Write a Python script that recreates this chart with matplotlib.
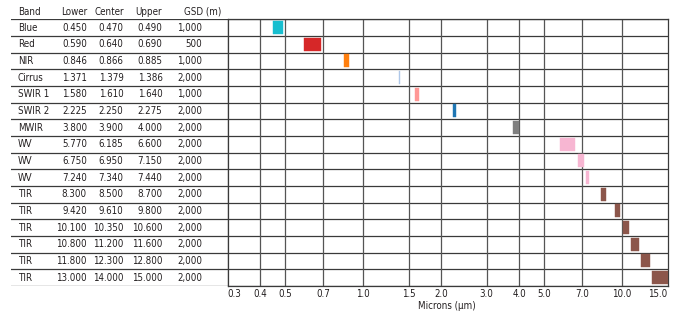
import matplotlib
matplotlib.use('Agg')
import matplotlib.pyplot as plt

plt.rcParams['font.family'] = ['DejaVu Sans']
plt.rcParams['font.stretch'] = 'condensed'
plt.rcParams['font.size'] = 7

# band table
bands = ['Blue', 'Red', 'NIR', 'Cirrus', 'SWIR 1', 'SWIR 2', 'MWIR', 'WV', 'WV', 'WV',
         'TIR', 'TIR', 'TIR', 'TIR', 'TIR', 'TIR']
lower = [0.450, 0.590, 0.846, 1.371, 1.580, 2.225, 3.800, 5.770, 6.750, 7.240,
         8.300, 9.420, 10.100, 10.800, 11.800, 13.000]
center = [0.470, 0.640, 0.866, 1.379, 1.610, 2.250, 3.900, 6.185, 6.950, 7.340,
          8.500, 9.610, 10.350, 11.200, 12.300, 14.000]
upper = [0.490, 0.690, 0.885, 1.386, 1.640, 2.275, 4.000, 6.600, 7.150, 7.440,
         8.700, 9.800, 10.600, 11.600, 12.800, 15.000]
gsd = [1000, 500, 1000, 2000, 1000, 2000, 2000, 2000, 2000, 2000,
       2000, 2000, 2000, 2000, 2000, 2000]
colors = ['#17becf', '#d62728', '#ff7f0e', '#aec7e8', '#ff9896', '#1f77b4', '#7f7f7f',
          '#f7b6d2', '#f7b6d2', '#f7b6d2', '#8c564b', '#8c564b', '#8c564b', '#8c564b',
          '#8c564b', '#8c564b']
headers = ['Band', 'Lower', 'Center', 'Upper', 'GSD (m)']
tick_vals = [0.3, 0.4, 0.5, 0.7, 1.0, 1.5, 2.0, 3.0, 4.0, 5.0, 7.0, 10.0, 15.0]
tick_labels = ['0.3', '0.4', '0.5', '0.7', '1.0', '1.5', '2.0', '3.0', '4.0', '5.0',
               '7.0', '10.0', '15.0']

W, H = 678, 317
txt = '#231f20'
line_c = '#3a3a3a'
n = len(bands)

fig = plt.figure(figsize=(W / 100, H / 100), dpi=100)
top_px, bot_px = 19.3, 286.0
ax_b = (H - bot_px) / H
ax_h = (bot_px - top_px) / H

# table part
tab = fig.add_axes([11 / W, ax_b, (227.7 - 11) / W, ax_h])
tab.set_xlim(11, 227.7)
tab.set_ylim(n, 0)
tab.axis('off')
for k in range(n + 1):
    tab.axhline(k, color=line_c, lw=0.9)
tab.axvline(227.7, color=line_c, lw=0.9)

col_x = [18, 87, 123.5, 162.5, 202.5]
for i in range(n):
    y = i + 0.5
    tab.text(col_x[0], y, bands[i], ha='left', va='center', color=txt)
    tab.text(col_x[1], y, f'{lower[i]:.3f}', ha='right', va='center', color=txt)
    tab.text(col_x[2], y, f'{center[i]:.3f}', ha='right', va='center', color=txt)
    tab.text(col_x[3], y, f'{upper[i]:.3f}', ha='right', va='center', color=txt)
    tab.text(col_x[4], y, f'{gsd[i]:,}', ha='right', va='center', color=txt)

head_x = [(18, 'left'), (87, 'right'), (124, 'right'), (162, 'right'), (184, 'left')]
for (hx, ha), h in zip(head_x, headers):
    tab.text(hx, -0.45, h, ha=ha, va='center', color=txt, clip_on=False)

# spectral chart
ax = fig.add_axes([227.7 / W, ax_b, 440 / W, ax_h])
ax.set_xscale('log')
ax.set_xlim(0.3, 15.0)
ax.set_ylim(n, 0)
ax.patch.set_alpha(0)
for s in ax.spines.values():
    s.set_color(line_c)
    s.set_linewidth(0.9)
for k in range(n + 1):
    ax.axhline(k, color=line_c, lw=0.9)
for v in tick_vals[1:-1]:
    ax.axvline(v, color='#555555', lw=0.9)

widths = [u - l for l, u in zip(lower, upper)]
rows = [i + 0.5 for i in range(n)]
ax.barh(rows, widths, left=lower, height=0.78, color=colors,
        edgecolor=colors, linewidth=0.3, zorder=3)

ax.set_yticks([])
ax.minorticks_off()
ax.set_xticks(tick_vals)
ax.set_xticklabels(tick_labels)
ax.tick_params(axis='x', length=0, pad=2.5, colors=txt, labelsize=7)
lbls = ax.get_xticklabels()
lbls[0].set_ha('left')
lbls[-1].set_ha('right')

fig.text(447 / W, 1 - 306 / H, 'Microns (µm)', ha='center', va='center', color=txt)

fig.savefig('out.png', dpi=100)
